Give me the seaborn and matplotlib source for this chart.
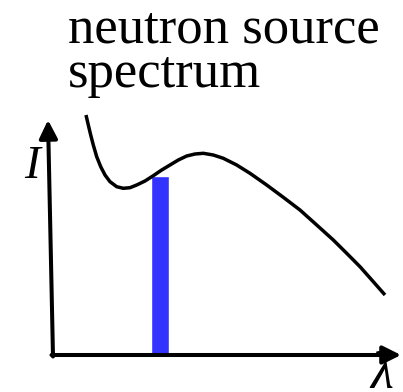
import matplotlib
matplotlib.use("Agg")
import matplotlib.pyplot as plt
import seaborn as sns
import pandas as pd

sns.set_theme(style="white")
plt.rcParams['font.family'] = ['Liberation Serif', 'DejaVu Serif']
plt.rcParams['text.color'] = 'black'

# spectrum curve (wavelength, intensity)
wavelength = [33, 35.3, 37.7, 40.3, 43.7, 47.7, 52, 57, 63.7, 70.3, 77, 83.7, 92,
              100.3, 108.7, 117, 125.3, 133.7, 142, 150.3, 160.3, 170.3, 183.7,
              197, 213.7, 230.3, 247, 263.7, 280.3, 293.7, 307, 320.3, 332]
intensity = [240, 230, 220, 210, 198.3, 188.3, 180, 173.3, 168.3, 166.7, 167.3,
             170, 174, 179.3, 185, 190, 195, 199, 201, 201.7, 200, 196.7, 190,
             181.7, 170, 157.7, 145, 130, 115, 101.7, 88.3, 73.3, 60]

# selected wavelength band
band_center = [107]
band_height = [179]

title_lines = ["neutron source", "spectrum"]
y_label = "I"
x_label = "λ"

df = pd.DataFrame({"wavelength": wavelength, "intensity": intensity})

fig = plt.figure(figsize=(4.03, 3.92), dpi=100)
ax = fig.add_axes([0, 0, 1, 1])
ax.set_xlim(-53, 350)
ax.set_ylim(-37, 355)
ax.axis("off")

ax.bar(band_center, band_height, width=18, color="#3333FF", zorder=2)

sns.lineplot(data=df, x="wavelength", y="intensity", ax=ax, color="black",
             linewidth=2.5, sort=False, estimator=None, zorder=3,
             solid_joinstyle="round", solid_capstyle="butt")

arrow = dict(arrowstyle="-|>,head_length=1.0,head_width=0.5", lw=2.9,
             color="black", mutation_scale=11, shrinkA=0, shrinkB=0)
ax.annotate("", xy=(348, 0), xytext=(-1.5, 0), arrowprops=arrow, zorder=4)
ax.annotate("", xy=(-5, 235), xytext=(0, -1.5), arrowprops=arrow, zorder=4)

ax.text(-21, 188, y_label, fontsize=34, style="italic", ha="center", va="center",
        color="black")
ax.text(329, -33, x_label, fontsize=38, style="italic", ha="center", va="baseline",
        color="black", clip_on=False)

ax.text(15, 313, title_lines[0], fontsize=38, ha="left", va="baseline", color="black")
ax.text(15, 268, title_lines[1], fontsize=38, ha="left", va="baseline", color="black")

fig.savefig("out.png", dpi=100)
